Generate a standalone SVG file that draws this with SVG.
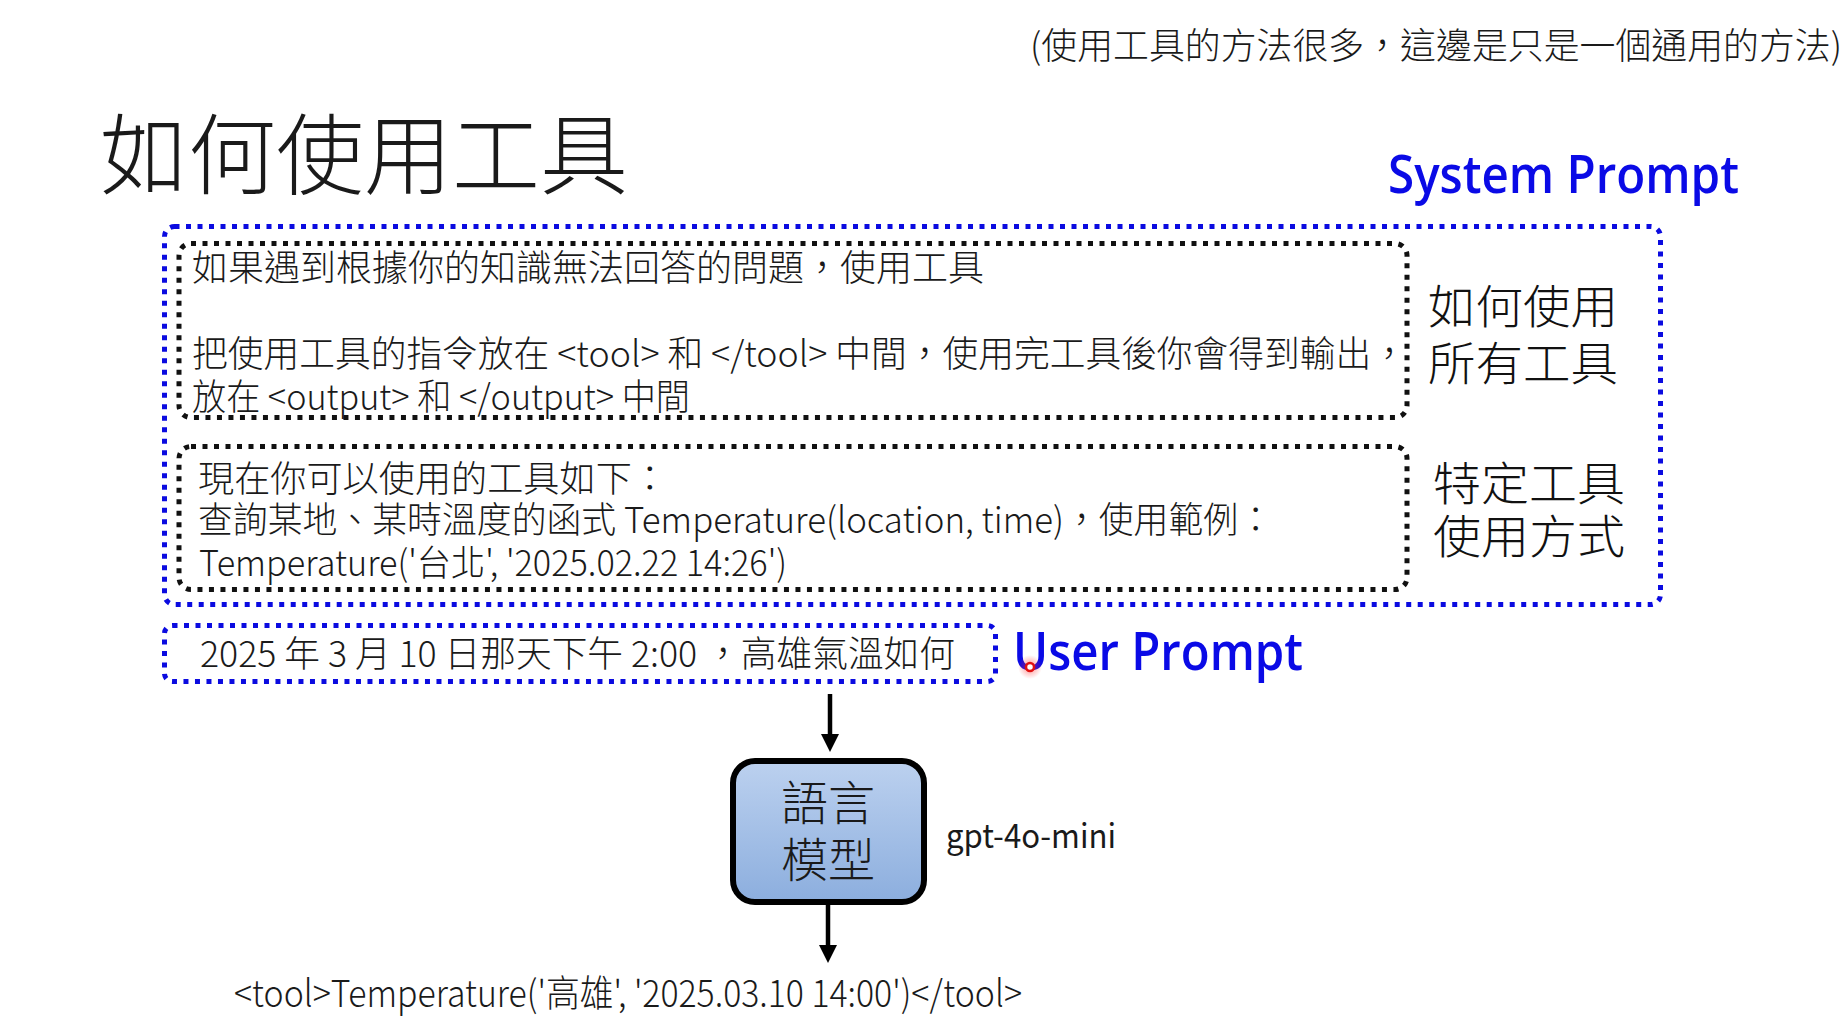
<svg xmlns="http://www.w3.org/2000/svg" width="1845" height="1033" viewBox="0 0 1845 1033">
<defs>
<style>
.cjk{font-family:"Noto Sans CJK TC","Noto Sans CJK SC",sans-serif;fill:#1a1a1a}
.body{font-size:36px;font-weight:300}
.lbl{font-size:46px;fill:#111;font-weight:300}
.blue{font-family:"Open Sans","Noto Sans",sans-serif;font-weight:600;font-size:52px;fill:#0a0ae6}
.bdot{fill:none;stroke:#0b0be0;stroke-width:5;stroke-dasharray:5 6.5}
.kdot{fill:none;stroke:#111;stroke-width:5;stroke-dasharray:5 6.5}
.conn{stroke:#000;stroke-width:4.5;fill:none}
</style>
<linearGradient id="lmfill" x1="0" y1="0" x2="0" y2="1">
<stop offset="0" stop-color="#bcd1ef"/>
<stop offset="1" stop-color="#8caede"/>
</linearGradient>
<radialGradient id="halo">
<stop offset="0" stop-color="#ff3030" stop-opacity="0.55"/>
<stop offset="1" stop-color="#ff3030" stop-opacity="0"/>
</radialGradient>
<marker id="ah" viewBox="0 0 18 18" markerUnits="userSpaceOnUse" markerWidth="18" markerHeight="18" refX="6" refY="9" orient="auto">
<path d="M0,0 L18,9 L0,18 z" fill="#000"/>
</marker>
</defs>

<rect width="1845" height="1033" fill="#ffffff"/>

<g id="note">
<text class="cjk" x="1030" y="59" font-size="36" font-weight="300" textLength="812" lengthAdjust="spacingAndGlyphs">(使用工具的方法很多，這邊是只是一個通用的方法)</text>
</g>

<g id="title">
<text class="cjk" x="100" y="187" font-size="88" font-weight="300" fill="#000">如何使用工具</text>
</g>

<g id="system-prompt">
<rect class="bdot" x="164.5" y="226.5" width="1496" height="378" rx="10"/>
<text class="blue" x="1388" y="193" textLength="351" lengthAdjust="spacingAndGlyphs">System Prompt</text>
</g>

<g id="box-general">
<rect class="kdot" x="179" y="243.5" width="1228" height="174" rx="12"/>
<text class="cjk body" x="192" y="281" textLength="792" lengthAdjust="spacingAndGlyphs">如果遇到根據你的知識無法回答的問題，使用工具</text>
<text class="cjk body" x="192" y="367" textLength="1215" lengthAdjust="spacingAndGlyphs">把使用工具的指令放在 &lt;tool&gt; 和 &lt;/tool&gt; 中間，使用完工具後你會得到輸出，</text>
<text class="cjk body" x="192" y="410" textLength="498" lengthAdjust="spacingAndGlyphs">放在 &lt;output&gt; 和 &lt;/output&gt; 中間</text>
</g>

<g id="label-general">
<text class="cjk lbl" x="1428" y="323" textLength="190" lengthAdjust="spacingAndGlyphs">如何使用</text>
<text class="cjk lbl" x="1428" y="380" textLength="190" lengthAdjust="spacingAndGlyphs">所有工具</text>
</g>

<g id="box-specific">
<rect class="kdot" x="179" y="446.5" width="1228" height="143" rx="12"/>
<text class="cjk body" x="198" y="492" textLength="470" lengthAdjust="spacingAndGlyphs">現在你可以使用的工具如下：</text>
<text class="cjk body" x="198" y="533" textLength="1075" lengthAdjust="spacingAndGlyphs">查詢某地、某時溫度的函式 Temperature(location, time)，使用範例：</text>
<text class="cjk body" x="199" y="576" textLength="588" lengthAdjust="spacingAndGlyphs">Temperature('台北', '2025.02.22 14:26')</text>
</g>

<g id="label-specific">
<text class="cjk lbl" x="1433" y="500" textLength="192" lengthAdjust="spacingAndGlyphs">特定工具</text>
<text class="cjk lbl" x="1433" y="553" textLength="192" lengthAdjust="spacingAndGlyphs">使用方式</text>
</g>

<g id="user-prompt">
<rect class="bdot" x="164.5" y="625.5" width="831" height="56" rx="8"/>
<text class="cjk body" x="200" y="667" textLength="755" lengthAdjust="spacingAndGlyphs">2025 年 3 月 10 日那天下午 2:00 ，高雄氣溫如何</text>
<text class="blue" x="1013" y="670" textLength="290" lengthAdjust="spacingAndGlyphs">User Prompt</text>
</g>

<g id="pointer">
<circle cx="1030" cy="667" r="12" fill="url(#halo)"/>
<circle cx="1030" cy="667" r="4" fill="#fff" stroke="#e01010" stroke-width="2.5"/>
</g>

<g id="language-model">
<rect x="733" y="761" width="191" height="141" rx="22" fill="url(#lmfill)" stroke="#000" stroke-width="6"/>
<text class="cjk" x="828" y="820" font-size="47" font-weight="300" text-anchor="middle" fill="#111">語言</text>
<text class="cjk" x="828" y="877" font-size="47" font-weight="300" text-anchor="middle" fill="#111">模型</text>
</g>

<g id="model-name">
<text class="cjk" x="946" y="848" font-size="33" textLength="170" lengthAdjust="spacingAndGlyphs">gpt-4o-mini</text>
</g>

<g id="output">
<text class="cjk" x="234" y="1007" font-size="37" font-weight="300" textLength="788" lengthAdjust="spacingAndGlyphs">&lt;tool&gt;Temperature('高雄', '2025.03.10 14:00')&lt;/tool&gt;</text>
</g>

<g id="connectors">
<line class="conn" x1="830" y1="694" x2="830" y2="740" marker-end="url(#ah)"/>
<line class="conn" x1="828" y1="905" x2="828" y2="951" marker-end="url(#ah)"/>
</g>
</svg>
